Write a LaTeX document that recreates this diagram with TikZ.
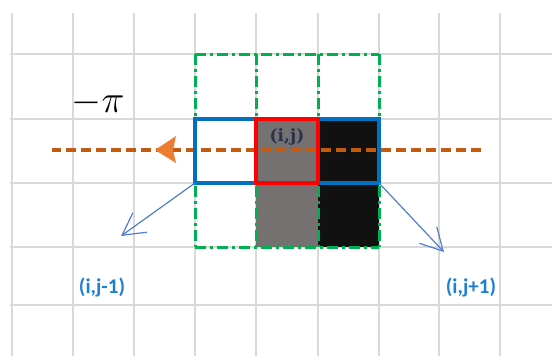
\documentclass[tikz,border=0pt]{standalone}
\usepackage{fontspec}
\usepackage{tikz}
\usetikzlibrary{arrows.meta}
\newfontfamily\lblfont{Carlito}
\newfontfamily\cellfont{DejaVu Serif}
\definecolor{pxgrid}{RGB}{217,217,217}
\definecolor{pxgreen}{RGB}{0,176,80}
\definecolor{pxblue}{RGB}{0,112,192}
\definecolor{pxred}{RGB}{255,0,0}
\definecolor{pxgray}{RGB}{118,113,113}
\definecolor{pxblack}{RGB}{17,17,17}
\definecolor{pxorange}{RGB}{197,90,17}
\definecolor{pxorangelt}{RGB}{237,125,49}
\definecolor{pxarrow}{RGB}{80,125,205}
\definecolor{pxlabel}{RGB}{30,128,210}
\definecolor{pxdark}{RGB}{40,50,75}
\tikzset{
  gridline/.style={pxgrid, line width=1.5pt},
  dashdot/.style={pxgreen, line width=3pt,
    dash pattern=on 11pt off 4pt on 3pt off 4pt},
  cellbox/.style={line width=4pt, line join=miter},
  nbarrow/.style={pxarrow, line width=1.2pt,
    -{Straight Barb[length=22pt, width=24pt, line width=1.2pt]}},
  nblabel/.style={pxlabel, font=\lblfont\bfseries\fontsize{21}{21}\selectfont},
}

\begin{document}
\begin{tikzpicture}[x=1pt, y=-1pt]
\useasboundingbox (0,0) rectangle (552,356);

% background grid
\foreach \x in {12,73,134,195,256,318,379,439,500}
  \draw[gridline] (\x,13) -- (\x,356);
\foreach \y in {54,119,183,247,305}
  \draw[gridline] (10,\y) -- (552,\y);

% shaded columns
\fill[pxgray]  (256,119) rectangle (318,247);
\fill[pxblack] (318,119) rectangle (379,247);

% 3x3 neighbourhood
\foreach \x in {195,256,318,379}
  \draw[dashdot] (\x,54) -- (\x,247);
\foreach \y in {54,183,247}
  \draw[dashdot] (195,\y) -- (379,\y);

% scan direction
\coordinate (scanE) at (481,150);
\coordinate (scanW) at (52,150);
\draw[pxorange, line width=4pt, dash pattern=on 10pt off 5pt] (scanE) -- (scanW);
\fill[pxorangelt] (155,150) -- (176,136) -- (173,150) -- (176,163) -- cycle;

% current row
\draw[cellbox, pxblue] (195,119) rectangle (379,183);
\draw[cellbox, pxred]  (256,119) rectangle (318,183);

% direction label and cell label
\node[scale=1.55] (angle) at (98,103) {\Huge$-\pi$};
\node[pxdark, font=\cellfont\bfseries\fontsize{17}{17}\selectfont] (cell) at (287,137) {(i,j)};

% neighbour pointers
\coordinate (rowSW) at (195,183);
\coordinate (rowSE) at (379,183);
\coordinate (leftTip)  at (121,236);
\coordinate (rightTip) at (444,252);
\draw[nbarrow] (rowSW) -- (leftTip);
\draw[nbarrow] (rowSE) -- (rightTip);
\node[nblabel] (left)  at (102,287) {(i,j-1)};
\node[nblabel] (right) at (471,287) {(i,j+1)};
\end{tikzpicture}
\end{document}
